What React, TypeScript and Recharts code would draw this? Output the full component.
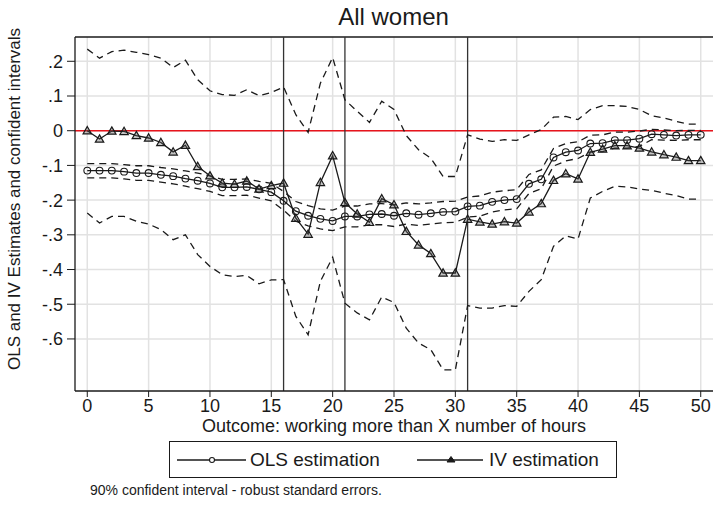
import React from "react";
import {
  LineChart,
  Line,
  XAxis,
  YAxis,
  CartesianGrid,
  ReferenceLine,
} from "recharts";

// x = number of hours threshold
const hours = [
  0, 1, 2, 3, 4, 5, 6, 7, 8, 9, 10, 11, 12, 13, 14, 15, 16, 17, 18, 19, 20, 21, 22, 23, 24, 25,
  26, 27, 28, 29, 30, 31, 32, 33, 34, 35, 36, 37, 38, 39, 40, 41, 42, 43, 44, 45, 46, 47, 48, 49, 50,
];

const olsEst = [
  -0.115, -0.115, -0.115, -0.118, -0.122, -0.122, -0.127, -0.131, -0.138, -0.144, -0.152, -0.163,
  -0.163, -0.162, -0.169, -0.177, -0.202, -0.232, -0.245, -0.254, -0.26, -0.247, -0.247, -0.241,
  -0.24, -0.245, -0.238, -0.242, -0.238, -0.234, -0.233, -0.218, -0.216, -0.205, -0.2, -0.197,
  -0.153, -0.14, -0.077, -0.062, -0.057, -0.037, -0.036, -0.027, -0.027, -0.023, -0.01, -0.012,
  -0.014, -0.012, -0.012,
];
const olsHi = [
  -0.095, -0.095, -0.095, -0.098, -0.101, -0.101, -0.106, -0.11, -0.116, -0.122, -0.13, -0.14,
  -0.14, -0.139, -0.146, -0.152, -0.175, -0.204, -0.216, -0.225, -0.229, -0.217, -0.217, -0.211,
  -0.21, -0.214, -0.208, -0.211, -0.208, -0.204, -0.203, -0.191, -0.188, -0.177, -0.173, -0.17,
  -0.126, -0.113, -0.051, -0.037, -0.032, -0.013, -0.012, -0.004, -0.004, -0.001, 0.004, 0.002,
  0.0, 0.001, 0.001,
];
const olsLo = [
  -0.136, -0.136, -0.136, -0.139, -0.143, -0.143, -0.148, -0.153, -0.16, -0.167, -0.175, -0.187,
  -0.187, -0.186, -0.194, -0.202, -0.229, -0.261, -0.274, -0.283, -0.288, -0.277, -0.277, -0.271,
  -0.271, -0.276, -0.269, -0.273, -0.269, -0.265, -0.264, -0.249, -0.246, -0.234, -0.228, -0.225,
  -0.181, -0.167, -0.102, -0.087, -0.08, -0.061, -0.06, -0.05, -0.05, -0.045, -0.026, -0.027,
  -0.028, -0.026, -0.026,
];

const ivEst = [
  0.0, -0.024, -0.001, -0.002, -0.014, -0.021, -0.034, -0.061, -0.042, -0.103, -0.13, -0.151,
  -0.154, -0.145, -0.168, -0.158, -0.151, -0.252, -0.298, -0.149, -0.072, -0.207, -0.24, -0.264,
  -0.196, -0.213, -0.29, -0.329, -0.354, -0.41, -0.41, -0.255, -0.263, -0.269, -0.262, -0.266,
  -0.234, -0.21, -0.143, -0.124, -0.139, -0.062, -0.053, -0.043, -0.043, -0.05, -0.061, -0.069,
  -0.076, -0.086, -0.086,
];
const ivHi = [
  0.235, 0.209, 0.228, 0.232, 0.226, 0.219, 0.209, 0.182, 0.203, 0.147, 0.115, 0.104, 0.102, 0.118,
  0.101, 0.11, 0.126, 0.046, -0.005, 0.137, 0.211, 0.089, 0.056, 0.024, 0.085, 0.061, -0.014,
  -0.055, -0.079, -0.132, -0.132, -0.012, -0.024, -0.031, -0.026, -0.028, -0.012, 0.003, 0.039,
  0.041, 0.032, 0.061, 0.072, 0.072, 0.07, 0.061, 0.043, 0.037, 0.027, 0.019, 0.019,
];
const ivLo = [
  -0.237, -0.266, -0.247, -0.247, -0.261, -0.269, -0.285, -0.314, -0.3, -0.357, -0.391, -0.415,
  -0.42, -0.417, -0.441, -0.43, -0.429, -0.535, -0.588, -0.434, -0.365, -0.497, -0.525, -0.545,
  -0.479, -0.495, -0.569, -0.612, -0.631, -0.689, -0.689, -0.504, -0.511, -0.511, -0.504, -0.506,
  -0.463, -0.429, -0.333, -0.303, -0.312, -0.194, -0.175, -0.16, -0.162, -0.168, -0.172, -0.18,
  -0.187, -0.197, -0.197,
];

const xTicks = [0, 5, 10, 15, 20, 25, 30, 35, 40, 45, 50];
const yTicks = [-0.6, -0.5, -0.4, -0.3, -0.2, -0.1, 0, 0.1, 0.2];
const cutoffs = [16, 21, 31];

const data = hours.map((h, i) => ({
  x: h,
  ols: olsEst[i],
  olsHi: olsHi[i],
  olsLo: olsLo[i],
  iv: ivEst[i],
  ivHi: ivHi[i],
  ivLo: ivLo[i],
}));

const FONT = "'Liberation Sans', Arial, Helvetica, sans-serif";
const INK = "#1a1a1a";

// stata style tick labels: .2, -.1, 0
const fmtY = (v: number) => {
  if (Math.abs(v) < 1e-9) return "0";
  return v.toFixed(1).replace("0.", ".");
};

const CircleDot = (props: any) => {
  const { cx, cy, index } = props;
  if (cx == null || cy == null) return null;
  return <circle key={`c-${index}`} cx={cx} cy={cy} r={3.4} fill="none" stroke={INK} strokeWidth={1.1} />;
};

const TriDot = (props: any) => {
  const { cx, cy, index } = props;
  if (cx == null || cy == null) return null;
  const s = 4.2;
  const d = `M${cx},${cy - s} L${cx + s},${cy + s * 0.75} L${cx - s},${cy + s * 0.75} Z`;
  return <path key={`t-${index}`} d={d} fill="#555" fillOpacity={0.35} stroke={INK} strokeWidth={1.2} />;
};

const abs = (left: number, top: number, extra: React.CSSProperties = {}): React.CSSProperties => ({
  position: "absolute",
  left,
  top,
  fontFamily: FONT,
  color: INK,
  whiteSpace: "nowrap",
  ...extra,
});

// legend drawn by hand, stata puts it in a box under the axis title
const LegendBox = () => (
  <div style={abs(169, 441, { width: 448, height: 37, border: `1px solid ${INK}`, boxSizing: "border-box" })}>
    <svg width={80} height={20} style={{ position: "absolute", left: 7, top: 8 }}>
      <line x1={0} y1={10} x2={69} y2={10} stroke={INK} strokeWidth={1.3} />
      <circle cx={35} cy={10} r={2.5} fill="#fff" stroke={INK} strokeWidth={1.1} />
    </svg>
    <span style={{ position: "absolute", left: 80, top: 7, fontSize: 19 }}>OLS estimation</span>
    <svg width={80} height={20} style={{ position: "absolute", left: 247, top: 8 }}>
      <line x1={0} y1={10} x2={66} y2={10} stroke={INK} strokeWidth={1.3} />
      <path d="M34,6.5 L38,12 L30,12 Z" fill={INK} stroke={INK} strokeWidth={1} />
    </svg>
    <span style={{ position: "absolute", left: 319, top: 7, fontSize: 19 }}>IV estimation</span>
  </div>
);

export default function App() {
  return (
    <div style={{ position: "absolute", left: 0, top: 0, width: 713, height: 505, background: "#fff" }}>
      <div style={abs(75, 3, { width: 637, textAlign: "center", fontSize: 24 })}>All women</div>
      <LineChart
        width={713}
        height={505}
        data={data}
        margin={{ top: 37, right: 0, bottom: 74, left: 0 }}
      >
        <CartesianGrid stroke="#e2e2e2" strokeWidth={1.5} verticalValues={xTicks} horizontalValues={yTicks} />
        <XAxis
          dataKey="x"
          type="number"
          domain={[-1, 51]}
          ticks={xTicks}
          interval={0}
          allowDataOverflow
          height={40}
          tickSize={6}
          tickMargin={2}
          stroke={INK}
          tick={{ fill: INK, fontSize: 18, fontFamily: FONT }}
          tickLine={{ stroke: INK }}
          axisLine={{ stroke: INK, strokeWidth: 1.3 }}
          label={{
            value: "Outcome: working more than X number of hours",
            position: "insideBottom",
            offset: -1,
            fill: INK,
            fontSize: 18,
            fontFamily: FONT,
          }}
        />
        <YAxis
          type="number"
          domain={[-0.75, 0.27]}
          ticks={yTicks}
          interval={0}
          allowDataOverflow
          width={75}
          tickSize={8}
          tickMargin={4}
          tickFormatter={fmtY}
          tick={{ fill: INK, fontSize: 18, fontFamily: FONT }}
          tickLine={{ stroke: INK }}
          axisLine={{ stroke: INK, strokeWidth: 1.3 }}
          label={{
            content: () => (
              <text
                x={14}
                y={199}
                transform="rotate(-90 14 199)"
                textAnchor="middle"
                dominantBaseline="central"
                fill={INK}
                fontSize={17}
                fontFamily={FONT}
              >
                OLS and IV Estimates and confident intervals
              </text>
            ),
          }}
        />
        <ReferenceLine y={0.27} stroke={INK} strokeWidth={1.3} />
        <ReferenceLine y={0} stroke="#e8141c" strokeWidth={1.5} />
        {cutoffs.map((c) => (
          <ReferenceLine key={c} x={c} stroke="#333" strokeWidth={1.3} />
        ))}
        <Line dataKey="ivHi" stroke={INK} strokeWidth={1.3} strokeDasharray="7 5" dot={false} isAnimationActive={false} />
        <Line dataKey="ivLo" stroke={INK} strokeWidth={1.3} strokeDasharray="7 5" dot={false} isAnimationActive={false} />
        <Line dataKey="olsHi" stroke={INK} strokeWidth={1.3} strokeDasharray="7 5" dot={false} isAnimationActive={false} />
        <Line dataKey="olsLo" stroke={INK} strokeWidth={1.3} strokeDasharray="7 5" dot={false} isAnimationActive={false} />
        <Line dataKey="ols" stroke={INK} strokeWidth={1.3} dot={<CircleDot />} isAnimationActive={false} />
        <Line dataKey="iv" stroke={INK} strokeWidth={1.3} dot={<TriDot />} isAnimationActive={false} />
      </LineChart>
      <LegendBox />
      <div style={abs(90, 482, { fontSize: 14 })}>90% confident interval - robust standard errors.</div>
    </div>
  );
}
